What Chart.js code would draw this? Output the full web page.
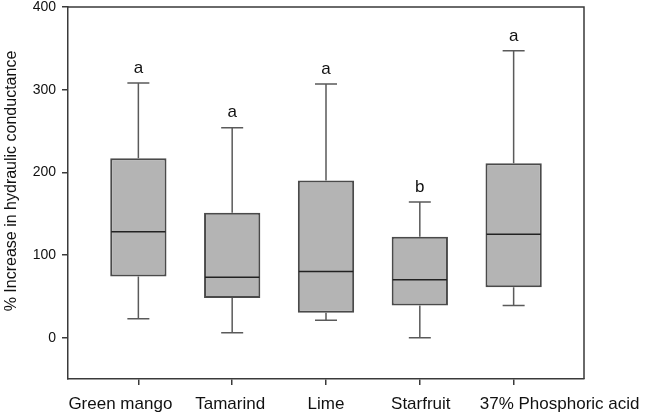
<!DOCTYPE html>
<html>
<head>
<meta charset="utf-8">
<script src="https://cdn.jsdelivr.net/npm/chart.js@4/dist/chart.umd.min.js"></script>
<style>
html,body{margin:0;padding:0;background:#fff;}
#wrap{width:648px;height:416px;}
</style>
</head>
<body>
<div id="wrap"><canvas id="c" width="648" height="416"></canvas></div>
<script>
const categories = ['Green mango', 'Tamarind', 'Lime', 'Starfruit', '37% Phosphoric acid'];
const whiskerLow  = [23, 6, 21, 0, 39];
const q1          = [74, 48, 30, 39, 61];
const median      = [128, 73, 80, 70, 125];
const q3          = [217, 151, 190, 122, 211];
const whiskerHigh = [308, 254, 307, 164, 347];
const letters     = ['a', 'a', 'a', 'b', 'a'];
const yTicks      = [0, 100, 200, 300, 400];
const yTitle      = '% Increase in hydraulic conductance';

const FONT = '"Liberation Sans", Arial, sans-serif';
const AXIS_COLOR = '#3a3a3a';
// horizontal nudges of category labels (px), as in the original layout
const LABEL_SHIFT = [-18, -2, 0, 1, 46];

const boxPlugin = {
  id: 'boxExtras',
  afterDatasetsDraw(chart) {
    const ctx = chart.ctx;
    const xs = chart.scales.x, ys = chart.scales.y;
    const meta = chart.getDatasetMeta(0);
    const a = chart.chartArea;
    ctx.save();
    categories.forEach((c, i) => {
      const x = xs.getPixelForValue(i + 1);
      const bar = meta.data[i];
      const half = bar.width / 2;
      const cap = 11;
      ctx.strokeStyle = '#5a5a5a';
      ctx.lineWidth = 1.5;
      ctx.beginPath();
      ctx.moveTo(x, ys.getPixelForValue(q3[i]));
      ctx.lineTo(x, ys.getPixelForValue(whiskerHigh[i]));
      ctx.moveTo(x - cap, ys.getPixelForValue(whiskerHigh[i]));
      ctx.lineTo(x + cap, ys.getPixelForValue(whiskerHigh[i]));
      ctx.moveTo(x, ys.getPixelForValue(q1[i]));
      ctx.lineTo(x, ys.getPixelForValue(whiskerLow[i]));
      ctx.moveTo(x - cap, ys.getPixelForValue(whiskerLow[i]));
      ctx.lineTo(x + cap, ys.getPixelForValue(whiskerLow[i]));
      ctx.stroke();
      ctx.strokeStyle = '#222';
      ctx.lineWidth = 1.5;
      ctx.beginPath();
      ctx.moveTo(x - half + 1, ys.getPixelForValue(median[i]));
      ctx.lineTo(x + half - 1, ys.getPixelForValue(median[i]));
      ctx.stroke();
      ctx.fillStyle = '#111';
      ctx.font = '17px ' + FONT;
      ctx.textAlign = 'center';
      ctx.textBaseline = 'middle';
      ctx.fillText(letters[i], x, ys.getPixelForValue(whiskerHigh[i]) - 15);
      ctx.textBaseline = 'alphabetic';
      ctx.fillText(c, x + LABEL_SHIFT[i], a.bottom + 30);
    });
    ctx.save();
    ctx.translate(16, (a.top + a.bottom) / 2 - 12);
    ctx.rotate(-Math.PI / 2);
    ctx.font = '16px ' + FONT;
    ctx.textAlign = 'center';
    ctx.textBaseline = 'alphabetic';
    ctx.fillText(yTitle, 0, 0);
    ctx.restore();
    ctx.strokeStyle = AXIS_COLOR;
    ctx.lineWidth = 1.5;
    ctx.beginPath();
    ctx.moveTo(a.left, a.top);
    ctx.lineTo(a.right, a.top);
    ctx.lineTo(a.right, a.bottom);
    ctx.stroke();
    ctx.restore();
  }
};

new Chart(document.getElementById('c'), {
  type: 'bar',
  data: {
    datasets: [{
      data: categories.map((c, i) => ({ x: i + 1, y: [q1[i], q3[i]] })),
      backgroundColor: '#b4b4b4',
      borderColor: '#4a4a4a',
      borderWidth: 2,
      borderSkipped: false,
      barPercentage: 0.6,
      categoryPercentage: 1.0
    }]
  },
  options: {
    responsive: false,
    animation: false,
    devicePixelRatio: 1,
    layout: { padding: { top: 7, right: 64, left: 0, bottom: 0 } },
    plugins: { legend: { display: false }, tooltip: { enabled: false } },
    scales: {
      x: {
        type: 'linear',
        min: 0.25,
        max: 5.75,
        offset: false,
        afterBuildTicks(axis) { axis.ticks = categories.map((c, i) => ({ value: i + 1 })); },
        afterFit(axis) { axis.height = 37; axis.paddingLeft = 0; axis.paddingRight = 0; },
        ticks: { display: false },
        grid: { drawOnChartArea: false, drawTicks: true, tickLength: 6, color: AXIS_COLOR, lineWidth: 1.5, offset: false },
        border: { display: true, color: AXIS_COLOR, width: 1.5 }
      },
      y: {
        min: -50,
        max: 400,
        afterBuildTicks(axis) { axis.ticks = yTicks.map(v => ({ value: v })); },
        afterFit(axis) { axis.width = 68; axis.paddingTop = 0; axis.paddingBottom = 0; },
        ticks: {
          padding: 6,
          color: '#111',
          font: { family: FONT, size: 14 }
        },
        grid: { drawOnChartArea: false, drawTicks: true, tickLength: 6, color: AXIS_COLOR, lineWidth: 1.5 },
        border: { display: true, color: AXIS_COLOR, width: 1.5 }
      }
    }
  },
  plugins: [boxPlugin]
});
</script>
</body>
</html>
